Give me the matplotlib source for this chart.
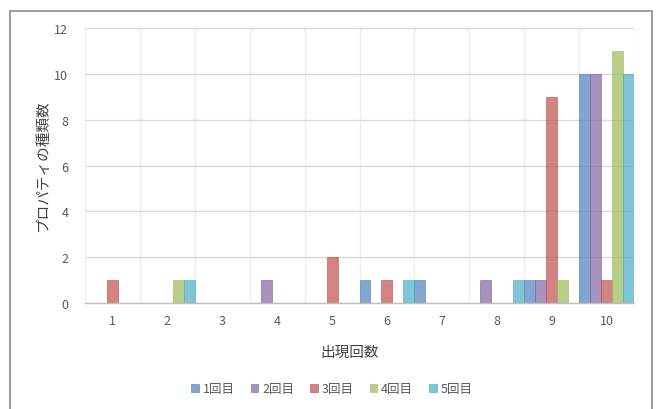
import matplotlib
matplotlib.use("Agg")
import matplotlib.pyplot as plt
import matplotlib.patches as mpatches
import numpy as np

plt.rcParams['font.family'] = ['Noto Sans CJK JP', 'DejaVu Sans']

categories = ['1', '2', '3', '4', '5', '6', '7', '8', '9', '10']
series_names = ['1回目', '2回目', '3回目', '4回目', '5回目']
round1 = [0, 0, 0, 0, 0, 1, 1, 0, 1, 10]
round2 = [0, 0, 0, 1, 0, 0, 0, 1, 1, 10]
round3 = [1, 0, 0, 0, 2, 1, 0, 0, 9, 1]
round4 = [0, 1, 0, 0, 0, 0, 0, 0, 1, 11]
round5 = [0, 1, 0, 0, 0, 1, 0, 1, 0, 10]
y_ticks = [0, 2, 4, 6, 8, 10, 12]

series = [round1, round2, round3, round4, round5]
colors = ['#4F81BD', '#8064A2', '#C0504D', '#9BBB59', '#4BACC6']
text_color = '#595959'

W, H = 656, 410
fig = plt.figure(figsize=(W / 100, H / 100), dpi=100)
ax = fig.add_axes([85 / W, (H - 304) / H, (634 - 85) / W, (304 - 29) / H])

x = np.arange(len(categories))
n = len(series)
bw = 1.0 / n
for k, (vals, c, name) in enumerate(zip(series, colors, series_names)):
    ax.bar(x - 0.5 + bw * (k + 0.5), vals, width=bw, color=c, alpha=0.7,
           edgecolor=c, linewidth=0.6, label=name, zorder=2)

ax.set_xlim(-0.5, len(categories) - 0.5)
ax.set_ylim(0, 12)
ax.set_yticks(y_ticks)
ax.set_xticks(x)
ax.set_xticklabels(categories)
ax.set_xticks(np.arange(len(categories) + 1) - 0.5, minor=True)
ax.tick_params(axis='both', which='both', length=0, labelsize=9, colors=text_color)
ax.tick_params(axis='y', pad=12)
ax.tick_params(axis='x', pad=8)
ax.grid(axis='y', which='major', color='#D9D9D9', linewidth=1, zorder=1)
ax.grid(axis='x', which='minor', color='#EDEDED', linewidth=1, zorder=1)
ax.set_axisbelow(True)
for side in ['top', 'right', 'left']:
    ax.spines[side].set_visible(False)
ax.spines['bottom'].set_color('#BFBFBF')
ax.spines['bottom'].set_linewidth(1)

ax.set_ylabel('プロパティの種類数', fontsize=10.5, color='#404040', labelpad=3)
fig.text(350 / W, 1 - 353 / H, '出現回数', fontsize=10.5, color='#404040',
         ha='center', va='center')

handles = [mpatches.Patch(facecolor=c, alpha=0.7, edgecolor=c, linewidth=0.6)
           for c in colors]
fig.legend(handles, series_names, loc='center', bbox_to_anchor=(332 / W, 1 - 390 / H),
           ncol=5, frameon=False, fontsize=9, handlelength=0.6, handleheight=0.6,
           handletextpad=0.3, columnspacing=1.3, labelcolor=text_color)

# outer chart frame
frame = mpatches.Rectangle((10 / W, -0.05), (652 - 10) / W, 1.05 - 12 / H,
                           transform=fig.transFigure, fill=False,
                           edgecolor='#8C8C8C', linewidth=1.2, clip_on=False)
fig.patches.append(frame)

fig.savefig('out.png', dpi=100, facecolor='white')
